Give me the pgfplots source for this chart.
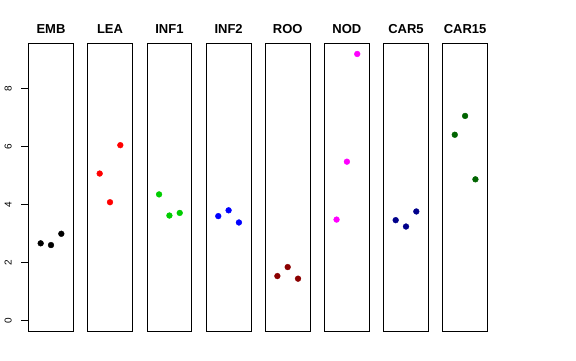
\documentclass[border=0pt]{standalone}
\usepackage{pgfplots}
\pgfplotsset{compat=1.18}
\usepackage{fontspec}
\setmainfont{Liberation Sans}
\definecolor{green3}{RGB}{0,205,0}
\definecolor{rdarkred}{RGB}{139,0,0}
\definecolor{rdarkblue}{RGB}{0,0,139}
\definecolor{rdarkgreen}{RGB}{0,100,0}
\definecolor{rmagenta}{RGB}{255,0,255}
\pgfplotsset{panel/.style={
  width=44.6pt, height=287.7pt, scale only axis,
  xmin=-0.16, xmax=4.16, ymin=-0.368, ymax=9.568,
  xtick=\empty, ytick=\empty,
  anchor=south west,
  axis line style={line width=0.75pt},
  every axis title/.style={font=\bfseries\fontsize{13}{15}\selectfont, at={(0.5,1)}, anchor=base, yshift=9.5pt},
  clip=false,
}}
\pgfplotsset{pts/.style={only marks, mark=*, mark size=2.9pt, mark options={draw=#1, fill=#1}}}
\begin{document}
\begin{tikzpicture}
\path[use as bounding box] (0pt,0pt) rectangle (576pt,360pt);
\begin{axis}[panel, at={(28.7pt,29pt)}, title={EMB},
  ytick={0,2,4,6,8}, ytick pos=left, tick align=outside, major tick length=7.5pt,
  tick style={line width=0.6pt, black},
  yticklabel={\fontsize{10}{12}\selectfont\pgfmathprintnumber[assume math mode=true]{\tick}},
  yticklabel style={rotate=90, anchor=south, yshift=6pt}]
\addplot[pts=black] coordinates {(1,2.66) (2,2.60) (3,2.99)};
\end{axis}
\begin{axis}[panel, at={(87.7pt,29pt)}, title={LEA}]
\addplot[pts=red] coordinates {(1,5.07) (2,4.08) (3,6.05)};
\end{axis}
\begin{axis}[panel, at={(147.1pt,29pt)}, title={INF1}]
\addplot[pts=green3] coordinates {(1,4.35) (2,3.62) (3,3.71)};
\end{axis}
\begin{axis}[panel, at={(206.3pt,29pt)}, title={INF2}]
\addplot[pts=blue] coordinates {(1,3.60) (2,3.80) (3,3.38)};
\end{axis}
\begin{axis}[panel, at={(265.4pt,29pt)}, title={ROO}]
\addplot[pts=rdarkred] coordinates {(1,1.53) (2,1.84) (3,1.44)};
\end{axis}
\begin{axis}[panel, at={(324.6pt,29pt)}, title={NOD}]
\addplot[pts=rmagenta] coordinates {(1,3.48) (2,5.48) (3,9.20)};
\end{axis}
\begin{axis}[panel, at={(383.7pt,29pt)}, title={CAR5}]
\addplot[pts=rdarkblue] coordinates {(1,3.46) (2,3.24) (3,3.76)};
\end{axis}
\begin{axis}[panel, at={(442.8pt,29pt)}, title={CAR15}]
\addplot[pts=rdarkgreen] coordinates {(1,6.41) (2,7.06) (3,4.87)};
\end{axis}
\end{tikzpicture}
\end{document}
